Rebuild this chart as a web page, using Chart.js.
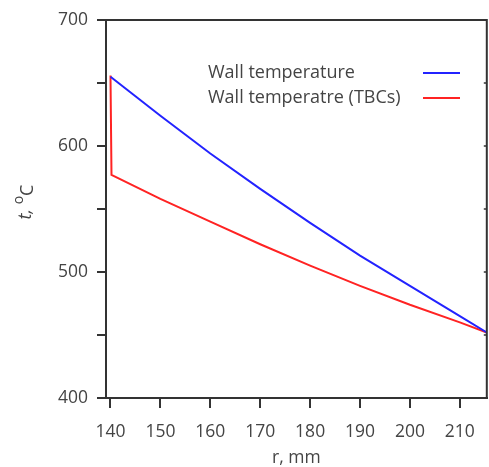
<!DOCTYPE html>
<html>
<head>
<meta charset="utf-8">
<script src="https://cdn.jsdelivr.net/npm/chart.js@4"></script>
<style>
  html, body { margin: 0; padding: 0; background: #fff; }
  #box { width: 489px; height: 467px; }
</style>
</head>
<body>
<div id="box"><canvas id="chartWall"></canvas></div>
<script>
// ==================== DADOS ====================
const rWall = [140, 150, 160, 170, 180, 190, 200, 210, 215.4];
const tWall = [655, 624, 594, 566, 539, 513, 489, 465, 452];

const rTbc = [140, 140.2, 150, 160, 170, 180, 190, 200, 210, 215.4];
const tTbc = [656, 577, 558, 540, 522, 505, 489, 474, 460, 452];

const xTicks = [140, 150, 160, 170, 180, 190, 200, 210];
const yTicks = [400, 450, 500, 550, 600, 650, 700];
const yLabeled = [400, 500, 600, 700];

const legendLabels = ['Wall temperature', 'Wall temperatre (TBCs)'];

const axisColor = '#333';
const textColor = '#444';
const font = 'Open Sans';

function pontos(xs, ys) {
  return xs.map((x, i) => ({ x: x, y: ys[i] }));
}

// ==================== PLUGIN: bordas, titulo Y e legenda ====================
const extras = {
  id: 'extras',
  afterDraw(chart) {
    const ctx = chart.ctx;
    const a = chart.chartArea;
    const ys = chart.scales.y;
    ctx.save();
    // borda superior e direita
    ctx.strokeStyle = axisColor;
    ctx.lineWidth = 2;
    ctx.beginPath();
    ctx.moveTo(a.left, a.top);
    ctx.lineTo(a.right, a.top);
    ctx.lineTo(a.right, a.bottom);
    ctx.stroke();
    // ticks internos no eixo direito
    ctx.lineWidth = 1.5;
    yTicks.forEach(v => {
      const py = ys.getPixelForValue(v);
      ctx.beginPath();
      ctx.moveTo(a.right - 3, py);
      ctx.lineTo(a.right, py);
      ctx.stroke();
    });

    // titulo do eixo Y: t, oC
    ctx.translate(26, 202);
    ctx.rotate(-Math.PI / 2);
    ctx.fillStyle = textColor;
    ctx.textBaseline = 'middle';
    ctx.textAlign = 'left';
    ctx.font = 'italic 18px "' + font + '"';
    const w1 = ctx.measureText('t, ').width;
    ctx.font = '14px "' + font + '"';
    const w2 = ctx.measureText('o').width;
    ctx.font = '18px "' + font + '"';
    const w3 = ctx.measureText('C').width;
    let x0 = -(w1 + w2 + w3) / 2;
    ctx.font = 'italic 18px "' + font + '"';
    ctx.fillText('t, ', x0, 0);
    x0 += w1;
    ctx.font = '14px "' + font + '"';
    ctx.fillText('o', x0, -7);
    x0 += w2;
    ctx.font = '18px "' + font + '"';
    ctx.fillText('C', x0, 2);
    ctx.restore();

    // legenda: texto a esquerda, linha a direita
    ctx.save();
    ctx.font = '18px "' + font + '"';
    ctx.fillStyle = textColor;
    ctx.textBaseline = 'middle';
    ctx.textAlign = 'left';
    chart.data.datasets.forEach((ds, i) => {
      const ly = 73 + i * 25;
      ctx.fillText(legendLabels[i], 208, ly);
      ctx.strokeStyle = ds.borderColor;
      ctx.lineWidth = 2;
      ctx.beginPath();
      ctx.moveTo(423, ly);
      ctx.lineTo(460, ly);
      ctx.stroke();
    });
    ctx.restore();
  }
};

// ==================== GRAFICO ====================
const cxWall = document.getElementById('chartWall');
const chtWall = new Chart(cxWall, {
  type: 'line',
  data: {
    datasets: [
      {
        label: legendLabels[0],
        data: pontos(rWall, tWall),
        borderColor: 'rgb(35, 35, 255)',
        borderWidth: 2,
        pointRadius: 0,
        tension: 0,
      },
      {
        label: legendLabels[1],
        data: pontos(rTbc, tTbc),
        borderColor: 'rgb(255, 35, 35)',
        borderWidth: 2,
        pointRadius: 0,
        tension: 0,
      },
    ]
  },
  options: {
    responsive: true,
    maintainAspectRatio: false,
    animation: false,
    layout: { padding: { top: 20, right: 2, left: 0, bottom: 0 } },
    plugins: {
      legend: { display: false },
      tooltip: { enabled: false },
    },
    scales: {
      x: {
        type: 'linear',
        min: 139.1,
        max: 215.4,
        afterBuildTicks: s => { s.ticks = xTicks.map(v => ({ value: v })); },
        afterFit: s => { s.height = 69; },
        grid: { drawOnChartArea: false, drawTicks: true, tickLength: 10, color: axisColor, lineWidth: 2 },
        border: { color: axisColor, width: 2 },
        ticks: { color: textColor, font: { family: font, size: 17.5 }, padding: 14, maxRotation: 0 },
        title: {
          display: true, text: 'r, mm', color: textColor,
          font: { family: font, size: 17.5, lineHeight: 1.0 }, padding: { top: 0, bottom: 0 },
        },
      },
      y: {
        min: 400,
        max: 700,
        afterBuildTicks: s => { s.ticks = yTicks.map(v => ({ value: v })); },
        afterFit: s => { s.width = 106; },
        grid: { drawOnChartArea: false, drawTicks: true, tickLength: 9, color: axisColor, lineWidth: 2 },
        border: { color: axisColor, width: 2 },
        ticks: {
          color: textColor, font: { family: font, size: 17.5 }, padding: 9,
          callback: v => yLabeled.includes(v) ? String(v) : '',
        },
      },
    },
  },
  plugins: [extras],
});
</script>
</body>
</html>
